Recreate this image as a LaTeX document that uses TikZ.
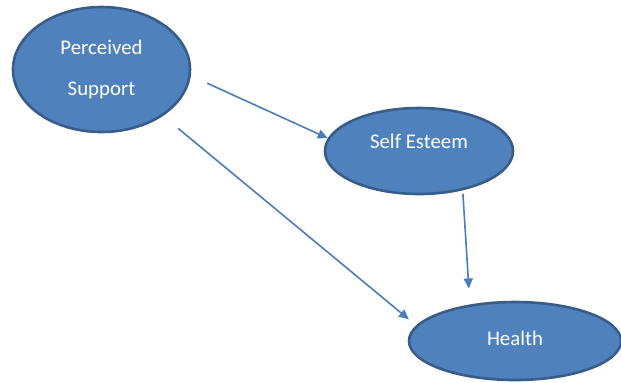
\documentclass[tikz,border=0pt]{standalone}
\usepackage{fontspec}
\setmainfont{Carlito}
\usetikzlibrary{shapes.geometric,arrows.meta}
\definecolor{ellblue}{RGB}{79,129,189}
\definecolor{ellrim}{RGB}{56,93,138}
\definecolor{arrblue}{RGB}{74,126,187}
\tikzset{
  var/.style={ellipse, draw=ellrim, fill=ellblue, line width=1.3pt,
    inner sep=0pt, align=center, text=white,
    font=\fontsize{10.4}{20.5}\selectfont},
  arr/.style={-{Triangle[length=5pt, width=4.5pt]}, line width=0.8pt, color=arrblue}
}
\begin{document}
\begin{tikzpicture}[x=0.5pt, y=-0.5pt]
\useasboundingbox (0,0) rectangle (621,382);

\node[var, minimum width=88.5pt, minimum height=62.5pt] (ps) at (101.5,69.5) {Perceived\\Support};
\node[var, minimum width=94pt, minimum height=43pt, text depth=9.5pt] (se) at (419,151) {Self Esteem};
\node[var, minimum width=106pt, minimum height=39pt, text depth=3pt] (he) at (515,341) {Health};

%% Paths
\draw[arr, shorten <=9pt] (ps.-4.4) -- (se.172);
\draw[arr, shorten <=9.8pt, shorten >=4.7pt] (ps.-37.3) -- (he.171.3);
\draw[arr, shorten <=1.7pt, shorten >=8pt] (se.-42.7) -- (he.141.5);

\end{tikzpicture}
\end{document}
